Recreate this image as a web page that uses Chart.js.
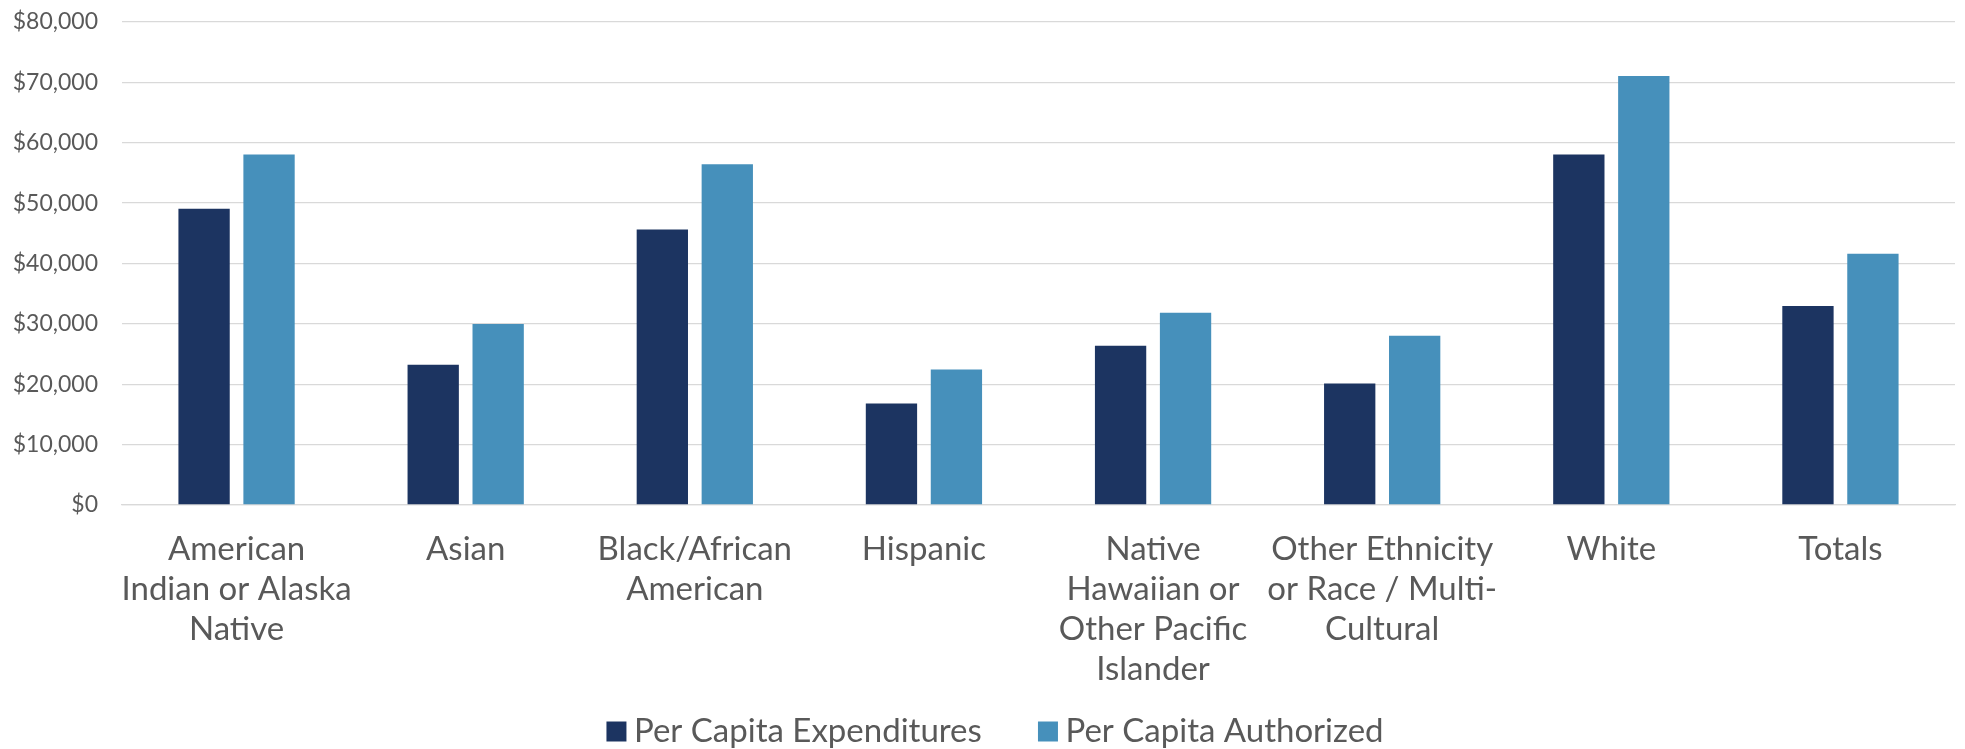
<!DOCTYPE html>
<html>
<head>
<meta charset="utf-8">
<title>Per Capita Expenditures and Authorized by Ethnicity</title>
<script src="https://cdn.jsdelivr.net/npm/chart.js@4.4.1/dist/chart.umd.min.js"></script>
<style>
    body { margin: 0; background: #ffffff; }
    #wrap { width: 1965px; height: 749px; position: relative; }
</style>
</head>
<body>
<div id="wrap"><canvas id="perCapitaChart"></canvas></div>
<script>
const categories = [
    ['American', 'Indian or Alaska', 'Native'],
    'Asian',
    ['Black/African', 'American'],
    'Hispanic',
    ['Native', 'Hawaiian or', 'Other Pacific', 'Islander'],
    ['Other Ethnicity', 'or Race / Multi-', 'Cultural'],
    'White',
    'Totals'
];
const expenditures = [49050, 23230, 45630, 16830, 26370, 20140, 58040, 32940];
const authorized = [58040, 30000, 56440, 22460, 31830, 28030, 71060, 41600];
const yTicks = [0, 10000, 20000, 30000, 40000, 50000, 60000, 70000, 80000];

const textColor = '#595959';
const gridColor = '#d9d9d9';
const fontFamily = 'Lato, "Open Sans", sans-serif';

// nudges the legend row a little to the right of the canvas centre
const legendShift = {
    id: 'legendShift',
    afterLayout: function(chart) {
        chart.legend.left += 22;
        chart.legend.right += 22;
    }
};

const ctx = document.getElementById('perCapitaChart').getContext('2d');
const perCapitaChart = new Chart(ctx, {
    type: 'bar',
    data: {
        labels: categories,
        datasets: [{
            label: 'Per Capita Expenditures',
            data: expenditures,
            backgroundColor: '#1c3461',
            categoryPercentage: 0.567,
            barPercentage: 0.79
        }, {
            label: 'Per Capita Authorized',
            data: authorized,
            backgroundColor: '#4690bb',
            categoryPercentage: 0.567,
            barPercentage: 0.79
        }]
    },
    plugins: [legendShift],
    options: {
        responsive: true,
        maintainAspectRatio: false,
        animation: false,
        layout: {
            padding: { left: 0, right: 10, top: 22, bottom: -9 }
        },
        plugins: {
            tooltip: { enabled: false },
            legend: {
                position: 'bottom',
                labels: {
                    color: textColor,
                    font: { family: fontFamily, size: 33 },
                    // square markers drawn as point style so the text sits close to them
                    usePointStyle: true,
                    pointStyle: 'rect',
                    boxWidth: 2,
                    boxHeight: 20,
                    padding: 6,
                    generateLabels: function(chart) {
                        const items = Chart.defaults.plugins.legend.labels.generateLabels(chart);
                        items.forEach((item, i) => {
                            item.pointStyle = 'rect';
                            if (i < items.length - 1) item.text = item.text + '       ';
                        });
                        return items;
                    }
                }
            }
        },
        scales: {
            x: {
                grid: { display: false, drawTicks: false },
                border: { color: gridColor, width: 1.3 },
                ticks: {
                    color: textColor,
                    font: { family: fontFamily, size: 33, lineHeight: 1.212 },
                    maxRotation: 0,
                    autoSkip: false,
                    padding: 24
                },
                afterFit: function(scale) {
                    scale.height = 204;
                }
            },
            y: {
                min: 0,
                max: 80000,
                afterBuildTicks: function(scale) {
                    scale.ticks = yTicks.map(v => ({ value: v }));
                },
                grid: { color: gridColor, lineWidth: 1.3, drawTicks: false },
                border: { display: false },
                ticks: {
                    color: textColor,
                    font: { family: fontFamily, size: 23 },
                    padding: 24,
                    callback: function(value) {
                        return '$' + value.toLocaleString('en-US');
                    }
                },
                afterFit: function(scale) {
                    scale.width = 122;
                    scale.paddingTop = 0;
                    scale.paddingBottom = 0;
                }
            }
        }
    }
});
</script>
</body>
</html>
